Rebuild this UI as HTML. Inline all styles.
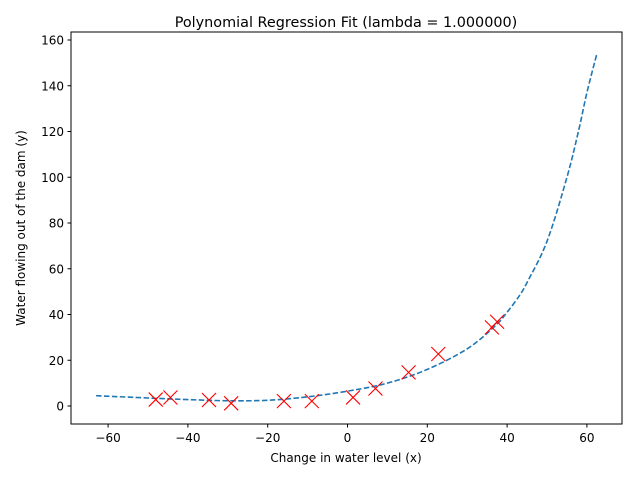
<!DOCTYPE html>
<html><head><meta charset="utf-8"><style>
body{margin:0;background:#fff}
svg text{font-family:"DejaVu Sans","Liberation Sans",sans-serif;fill:#000}
</style></head><body>
<svg id="chart" width="640" height="480" viewBox="0 0 640 480">
<rect width="640" height="480" fill="#fff"/>
<text x="346" y="27" font-size="14.4" text-anchor="middle">Polynomial Regression Fit (lambda = 1.000000)</text>
<g id="ticks"></g>
<path id="curve" fill="none" stroke="#1f77b4" stroke-width="1.6" stroke-dasharray="5.5,2.4"/>
<g id="marks"></g>
<rect x="71" y="32" width="551" height="392" fill="none" stroke="#000" stroke-width="1"/>
<text x="346" y="462" font-size="12" text-anchor="middle">Change in water level (x)</text>
<text transform="translate(25,228) rotate(-90)" font-size="12" text-anchor="middle">Water flowing out of the dam (y)</text>
</svg>
<script>
const dataX=[-15.94,-29.15,36.19,37.49,-48.06,-8.94,15.31,-34.71,1.39,-44.38,7.01,22.76];
const dataY=[2.13,1.17,34.36,36.84,2.81,2.12,14.71,2.61,3.74,3.73,7.63,22.75];
const curveX=[-63,-50,-40,-30,-20,-10,0,10,20,30,37,40,43,45,50,55,58,60,62.5];
const curveY=[4.5,3.5,2.8,2.3,2.5,4,6.5,10,16,25,35,41,48,54,72,100,121,137,154];
const xTicks=[-60,-40,-20,0,20,40,60];
const yTicks=[0,20,40,60,80,100,120,140,160];
const sx=v=>347.5+v*3.99;
const sy=v=>406-v*2.2875;
const NS="http://www.w3.org/2000/svg";
const tg=document.getElementById('ticks');
function mk(t,a,p){const e=document.createElementNS(NS,t);for(const k in a)e.setAttribute(k,a[k]);p.appendChild(e);return e;}
xTicks.forEach(v=>{
 const l=mk('line',{x1:sx(v),x2:sx(v),y1:424,y2:427.5,stroke:'#000'},tg);
 
 
 const t=mk('text',{x:sx(v),y:442,'font-size':12,'text-anchor':'middle'},tg);
 t.textContent=v<0?'\u2212'+(-v):v;
 
 
});
yTicks.forEach(v=>{
 const l=mk('line',{x1:67.5,x2:71,y1:sy(v),y2:sy(v),stroke:'#000'},tg);
 
 
 const t=mk('text',{x:64,y:sy(v)+4.5,'font-size':12,'text-anchor':'end'},tg);
 t.textContent=v;
 
 
});
const P=curveX.map((x,i)=>[sx(x),sy(curveY[i])]);
let d='M'+P[0][0]+','+P[0][1];
for(let i=0;i<P.length-1;i++){
 const p0=P[Math.max(0,i-1)],p1=P[i],p2=P[i+1],p3=P[Math.min(P.length-1,i+2)];
 const c1=[p1[0]+(p2[0]-p0[0])/6,p1[1]+(p2[1]-p0[1])/6];
 const c2=[p2[0]-(p3[0]-p1[0])/6,p2[1]-(p3[1]-p1[1])/6];
 d+=`C${c1[0]},${c1[1]} ${c2[0]},${c2[1]} ${p2[0]},${p2[1]}`;
}
document.getElementById('curve').setAttribute('d',d);
const mg=document.getElementById('marks');
dataX.forEach((x,i)=>{
 const cx=sx(x),cy=sy(dataY[i]),r=7;
 const g=mk('path',{d:`M${cx-r},${cy-r}L${cx+r},${cy+r}M${cx-r},${cy+r}L${cx+r},${cy-r}`,stroke:'#ff0000','stroke-width':1.1,fill:'none'},mg);
 
 
});
</script>
</body></html>
